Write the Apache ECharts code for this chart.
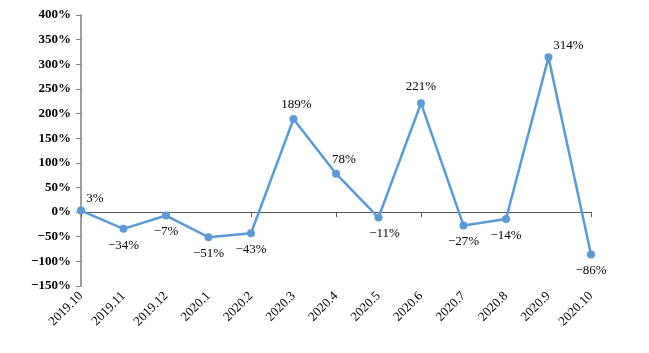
<!DOCTYPE html>
<html>
<head>
<meta charset="utf-8">
<script src="https://cdn.jsdelivr.net/npm/echarts@6/dist/echarts.min.js"></script>
<style>
  html, body { margin: 0; padding: 0; background: #fff; }
  #chart { width: 649px; height: 353px; }
</style>
</head>
<body>
<div id="chart"></div>
<script>
// 月份
const months = ['2019.10', '2019.11', '2019.12', '2020.1', '2020.2', '2020.3', '2020.4',
  '2020.5', '2020.6', '2020.7', '2020.8', '2020.9', '2020.10'];
// 同比增速 (%)
const growth = [3, -34, -7, -51, -43, 189, 78, -11, 221, -27, -14, 314, -86];

const FONT = '"Liberation Serif", "DejaVu Serif", serif';
const pct = v => (v < 0 ? '\u2212' + Math.abs(v) : v) + '%';

// 标签微调（仅样式）
const labelShift = { 0: [14, 4], 5: [3, 2], 6: [8, 2], 7: [6, 0], 11: [20, 5] };

const chart = echarts.init(document.getElementById('chart'));
chart.setOption({
  animation: false,
  grid: { left: 81, right: 58, top: 15, bottom: 67 },
  xAxis: [
    {
      type: 'category',
      data: months,
      boundaryGap: false,
      axisLine: { onZero: true, lineStyle: { color: '#595959', width: 1 } },
      axisTick: { show: true, alignWithLabel: true, length: 5, lineStyle: { color: '#595959' } },
      axisLabel: { show: false },
    },
    {
      type: 'category',
      data: months,
      boundaryGap: false,
      position: 'bottom',
      axisLine: { show: false },
      axisTick: { show: false },
      axisLabel: {
        rotate: 45,
        margin: 8,
        color: '#000',
        fontFamily: FONT,
        fontSize: 13,
      },
    },
  ],
  yAxis: {
    type: 'value',
    min: -150,
    max: 400,
    interval: 50,
    splitLine: { show: false },
    axisLine: { show: true, lineStyle: { color: '#7f7f7f', width: 1.5 } },
    axisTick: { show: true, length: 5, lineStyle: { color: '#7f7f7f' } },
    axisLabel: {
      formatter: pct,
      color: '#000',
      fontFamily: FONT,
      fontWeight: 'bold',
      fontSize: 13,
      margin: 10,
    },
  },
  series: [{
    type: 'line',
    xAxisIndex: 0,
    data: growth.map((v, i) => ({
      value: v,
      label: {
        position: v >= 0 ? 'top' : 'bottom',
        offset: labelShift[i] || [0, 0],
      },
    })),
    symbol: 'circle',
    symbolSize: 8,
    lineStyle: { color: '#5b9bd5', width: 2.5 },
    itemStyle: { color: '#5b9bd5' },
    label: {
      show: true,
      formatter: p => pct(p.value),
      color: '#000',
      fontFamily: FONT,
      fontSize: 13,
      distance: 6,
    },
  }],
});
</script>
</body>
</html>
